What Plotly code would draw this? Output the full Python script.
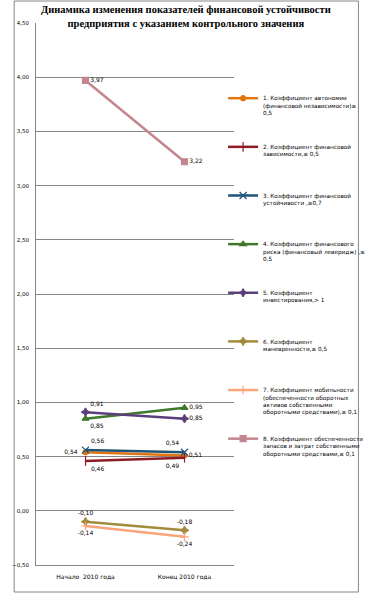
import plotly.graph_objects as go

categories = ["Начало  2010 года", "Конец 2010 года"]

series_names = [
    "1. Коэффициент автономии<br>(финансовой независимости)≥<br>0,5",
    "2. Коэффициент финансовой<br>зависимости,≤ 0,5",
    "3. Коэффициент финансовой<br>устойчивости ,≥0,7",
    "4. Коэффициент финансового<br>риска (финансовый леверидж) ,≤<br>0,5",
    "5. Коэффициент<br>инвестирования,> 1",
    "6. Коэффициент<br>маневренности,≥ 0,5",
    "7. Коэффициент мобильности<br>(обеспеченности оборотных<br>активов собственными<br>оборотными средствами),≥ 0,1",
    "8. Коэффициент обеспеченности<br>запасов и затрат собственными<br>оборотными средствами,≥ 0,1",
]

s1 = [0.54, 0.51]
s2 = [0.46, 0.49]
s3 = [0.56, 0.54]
s4 = [0.85, 0.95]
s5 = [0.91, 0.85]
s6 = [-0.10, -0.18]
s7 = [-0.14, -0.24]
s8 = [3.97, 3.22]
values = [s1, s2, s3, s4, s5, s6, s7, s8]

y_ticks = [-0.5, 0.0, 0.5, 1.0, 1.5, 2.0, 2.5, 3.0, 3.5, 4.0, 4.5]

title_text = ("Динамика изменения показателей финансовой устойчивости<br>"
              "предприятия с указанием контрольного значения")

colors = ["#E4750F", "#8E1B24", "#1F5478", "#3F7A2A", "#5B3F7C", "#A38B3E", "#F9A47A", "#C4868E"]
symbols = ["circle", "line-ns-open", "x-thin-open", "triangle-up", "star-diamond",
           "star-diamond", "cross-thin-open", "square"]
msizes = [5, 7, 7, 6, 6, 6, 6, 6]
text_pos = [
    ["middle left", "middle right"],
    ["bottom right", "bottom left"],
    ["top right", "top left"],
    ["bottom right", "middle right"],
    ["top right", "middle right"],
    ["top center", "top center"],
    ["bottom center", "bottom center"],
    ["middle right", "middle right"],
]

def fmt(v):
    return f"{v:.2f}".replace(".", ",")

fig = go.Figure()
for i, (name, vals) in enumerate(zip(series_names, values)):
    nlines = name.count("<br>") + 1
    padded = name + "<br>\u00a0" * (4 - nlines)
    labels = [fmt(v) for v in vals]
    labels = [t + "\u00a0\u00a0" if p == "middle left" else t for t, p in zip(labels, text_pos[i])]
    fig.add_trace(go.Scatter(
        x=categories, y=vals, name=padded, legendgroup=f"g{i}",
        mode="lines+markers+text",
        line=dict(color=colors[i], width=2.5),
        marker=dict(symbol=symbols[i], size=msizes[i], color=colors[i],
                    line=dict(color=colors[i], width=1.2)),
        text=labels,
        textposition=text_pos[i],
        textfont=dict(family="DejaVu Sans", size=6, color="#000000"),
        cliponaxis=False,
    ))

fig.update_layout(
    width=382, height=594,
    margin=dict(l=25, r=139, t=23, b=29),
    paper_bgcolor="white", plot_bgcolor="white",
    separators=", ",
    font=dict(family="DejaVu Sans", size=6, color="#000000"),
    xaxis=dict(
        type="category", range=[-0.5, 1.5],
        showgrid=False, zeroline=False,
        showline=True, linecolor="#868686", linewidth=1,
        ticks="", ticklabelstandoff=6,
        tickfont=dict(family="DejaVu Sans", size=6, color="#000000"),
    ),
    yaxis=dict(
        range=[-0.5, 4.5], tickvals=y_ticks, tickformat=".2f",
        showgrid=True, gridcolor="#868686", gridwidth=1,
        zeroline=False,
        showline=True, linecolor="#868686", linewidth=1,
        ticks="", ticklabelstandoff=5,
        tickfont=dict(family="DejaVu Sans", size=5.5, color="#000000"),
    ),
    legend=dict(
        x=(231 - 25) / 218, xanchor="left",
        y=(565 - 88) / 542, yanchor="top",
        valign="top", tracegroupgap=16,
        bgcolor="rgba(0,0,0,0)",
        font=dict(family="DejaVu Sans", size=5.7, color="#000000"),
        itemwidth=30,
    ),
    showlegend=True,
)

fig.add_annotation(
    text="<b>" + title_text + "</b>",
    xref="paper", yref="paper",
    x=(190 - 25) / 218, xanchor="center",
    y=(565 - 2) / 542, yanchor="top",
    showarrow=False,
    font=dict(family="Liberation Serif", size=10.5, color="#000000"),
)

fig.add_shape(
    type="rect", xref="paper", yref="paper",
    x0=(1 - 25) / 218, x1=(380 - 25) / 218,
    y0=(565 - 592) / 542, y1=(565 - 1) / 542,
    line=dict(color="#868686", width=1), fillcolor="rgba(0,0,0,0)", layer="below",
)

fig.write_html("out.html", config={"displayModeBar": False},
               post_script="document.body.style.margin='0';document.body.style.overflow='hidden';")
